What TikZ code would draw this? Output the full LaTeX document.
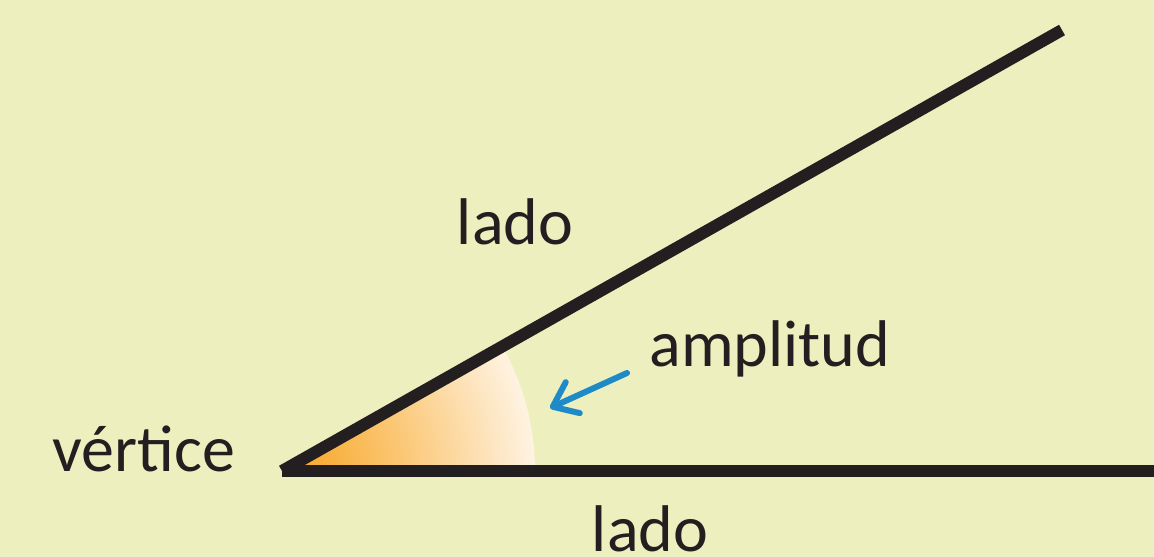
\documentclass[tikz,border=0pt]{standalone}
\usepackage{fontspec}
\setmainfont{Carlito}
\usetikzlibrary{arrows.meta}

\definecolor{bgyellow}{RGB}{237,240,190}
\definecolor{inkblack}{RGB}{35,31,32}
\definecolor{arrowblue}{RGB}{30,139,200}
\definecolor{fillorange}{RGB}{246,162,30}
\definecolor{fillmid}{RGB}{251,196,110}
\definecolor{fillcream}{RGB}{254,243,226}
\pgfdeclareradialshading{sectorfade}{\pgfpoint{0bp}{0bp}}{%
    color(0bp)=(fillorange); color(11bp)=(fillmid); color(25bp)=(fillcream); color(50bp)=(fillcream)}

\begin{document}
\begin{tikzpicture}[
        x=0.5bp, y=0.5bp,
        side/.style={line width=6bp, draw=inkblack},
        labeltext/.style={font=\fontsize{33bp}{36bp}\selectfont, text=inkblack, anchor=base, inner sep=0pt},
        pointer/.style={line width=3bp, draw=arrowblue, line cap=round, -{Straight Barb[length=11bp, width=17bp, round]}}
    ]
        \fill[bgyellow] (0,0) rectangle (1154,557);
        \useasboundingbox (0,0) rectangle (1154,557);

        \coordinate (vertex) at (282,86);
        \coordinate (upperend) at (1062,527);
        \coordinate (lowerend) at (1160,86);

        % angle sector
        \begin{scope}
            \clip (vertex) -- ++(0:253) arc[start angle=0, end angle=29.49, radius=253] -- cycle;
            \shade[shading=sectorfade] (vertex) circle[radius=253];
        \end{scope}

        \draw[side] (vertex) -- (lowerend);
        \draw[side] (vertex) -- (upperend);

        \node[labeltext] (ladoupper) at (515,312) {lado};
        \node[labeltext] (ladolower) at (650,5) {lado};
        \node[labeltext] (vertice) at (144,85) {vértice};
        \node[labeltext] (amplitud) at (770,190) {amplitud};

        \coordinate (arrowtail) at (627,184);
        \coordinate (arrowtip) at (550,149);
        \draw[pointer] (arrowtail) -- (arrowtip);
    \end{tikzpicture}
\end{document}
